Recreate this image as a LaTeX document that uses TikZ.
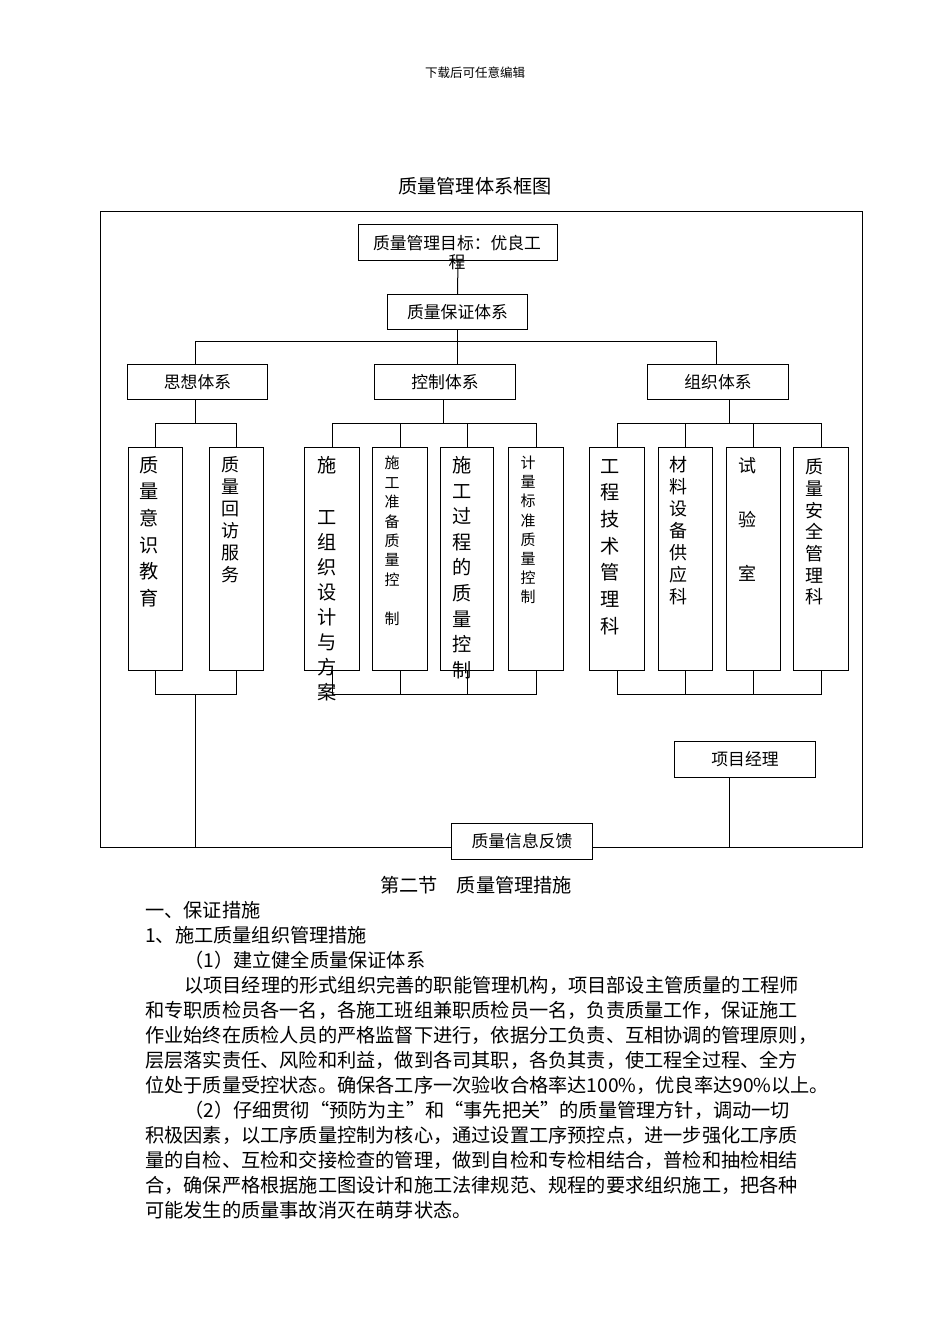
\documentclass[tikz,border=0pt]{standalone}
\usepackage{fontspec}
\setmainfont{Noto Sans CJK SC}
\begin{document}
\begin{tikzpicture}[x=1pt,y=-1pt,
  box/.style={draw, line width=1pt, fill=white, inner sep=0pt, font=\fontsize{16.8}{19}\selectfont},
  conn/.style={line width=1pt},
  vbig/.style={inner sep=0pt, align=center, font=\fontsize{19.2}{26.6}\selectfont},
  vmid/.style={inner sep=0pt, align=center, font=\fontsize{18}{22}\selectfont},
  vsmall/.style={inner sep=0pt, align=center, font=\fontsize{15}{19.3}\selectfont},
  body/.style={inner sep=0pt, anchor=west, font=\fontsize{19.2}{25}\selectfont},
  tall/.style={box, minimum width=54pt, minimum height=223pt, anchor=north west}]
\useasboundingbox (0,0) rectangle (950,1344);
\fill[white] (0,0) rectangle (950,1344);

\node[inner sep=0pt, font=\fontsize{12.5}{14}\selectfont] (hdr) at (475,73) {下载后可任意编辑};
\node[inner sep=0pt, font=\fontsize{19.2}{22}\selectfont] (title) at (475,186) {质量管理体系框图};

\node[draw, line width=1pt, minimum width=762pt, minimum height=636pt, anchor=north west, inner sep=0pt] (frame) at (100,211) {};

% top level
\node[box, minimum width=199pt, minimum height=36pt, anchor=north west] (t1) at (358,224) {};
\node[box, minimum width=140pt, minimum height=35pt, anchor=north west] (t2) at (387,294) {质量保证体系};
\coordinate (busA) at (0,341);
\coordinate (busB) at (0,423);
\coordinate (busC) at (0,694);

\node[box, minimum width=140pt, minimum height=35pt, anchor=north west] (s1) at (127,364) {思想体系};
\node[box, minimum width=141pt, minimum height=35pt, anchor=north west] (ctl) at (374,364) {控制体系};
\node[box, minimum width=141pt, minimum height=35pt, anchor=north west] (o1) at (647,364) {组织体系};

\node[tall] (b1) at (128,447) {};
\node[tall] (b2) at (209,447) {};
\node[tall, minimum width=55pt] (b3) at (304,447) {};
\node[tall, minimum width=55pt] (b4) at (372,447) {};
\node[tall, minimum width=53pt] (b5) at (440,447) {};
\node[tall, minimum width=55pt] (b6) at (508,447) {};
\node[tall, minimum width=55pt] (b7) at (589,447) {};
\node[tall] (b8) at (658,447) {};
\node[tall] (b9) at (726,447) {};
\node[tall, minimum width=55pt] (b10) at (793,447) {};

\node[box, minimum width=141pt, minimum height=36pt, anchor=north west] (pm) at (674,741) {项目经理};

% connectors
\draw[conn] (t1.south) -- (t2.north);
\draw[conn] (t2.south) -- (t2.south |- ctl.north);
\draw[conn] ([xshift=-2pt]s1.north) -- ([xshift=-2pt]s1.north |- busA) -- ([xshift=-2pt]o1.north |- busA) -- ([xshift=-2pt]o1.north);

\draw[conn] ([xshift=-2pt]s1.south) -- ([xshift=-2pt]s1.south |- busB);
\draw[conn] (b1.north) -- (b1.north |- busB) -- (b2.north |- busB) -- (b2.north);
\draw[conn] (b1.south) -- (b1.south |- busC) -- (b2.south |- busC) -- (b2.south);
\draw[conn] ([xshift=-2pt]s1.south |- busC) -- ([xshift=-2pt]s1.south |- frame.south);

\draw[conn] ([xshift=-1.5pt]ctl.south) -- ([xshift=-1.5pt]ctl.south |- busB);
\draw[conn] (b3.north) -- (b3.north |- busB) -- (b6.north |- busB) -- (b6.north);
\draw[conn] (b4.north) -- (b4.north |- busB);
\draw[conn] (b5.north) -- (b5.north |- busB);
\draw[conn] (b3.south) -- (b3.south |- busC) -- (b6.south |- busC) -- (b6.south);
\draw[conn] (b4.south) -- (b4.south |- busC);
\draw[conn] (b5.south) -- (b5.south |- busC);

\draw[conn] ([xshift=11pt]o1.south) -- ([xshift=11pt]o1.south |- busB);
\draw[conn] (b7.north) -- (b7.north |- busB) -- (b10.north |- busB) -- (b10.north);
\draw[conn] (b8.north) -- (b8.north |- busB);
\draw[conn] (b9.north) -- (b9.north |- busB);
\draw[conn] (b7.south) -- (b7.south |- busC) -- (b10.south |- busC) -- (b10.south);
\draw[conn] (b8.south) -- (b8.south |- busC);
\draw[conn] (b9.south) -- (b9.south |- busC);

\draw[conn] ([xshift=-15.5pt]pm.south) -- ([xshift=-15.5pt]pm.south |- frame.south);

\node[box, minimum width=141pt, minimum height=36pt, anchor=north west] (fb) at (451,823) {质量信息反馈};

% box texts
\node[inner sep=0pt, align=center, font=\fontsize{16.8}{19}\selectfont] (t1txt) at (457,252.5) {质量管理目标：优良工\\程};
\node[vbig] (b1t) at (149,531.5) {质\\量\\意\\识\\教\\育};
\node[vmid] (b2t) at (230,520) {质\\量\\回\\访\\服\\务};
\node[vbig, font=\fontsize{19.2}{25}\selectfont] (b3t) at (327,578.5) {施\\[27pt]工\\组\\织\\设\\计\\与\\方\\案};
\node[vsmall, font=\fontsize{15}{19.4}\selectfont] (b4t) at (392,541) {施\\工\\准\\备\\质\\量\\控\\[20pt]制};
\node[vbig, font=\fontsize{19.2}{25.6}\selectfont] (b5t) at (462,567.5) {施\\工\\过\\程\\的\\质\\量\\控\\制};
\node[vsmall, font=\fontsize{15}{19.15}\selectfont] (b6t) at (528,530) {计\\量\\标\\准\\质\\量\\控\\制};
\node[vbig, font=\fontsize{19.2}{26.7}\selectfont] (b7t) at (610,547) {工\\程\\技\\术\\管\\理\\科};
\node[vmid] (b8t) at (678,531) {材\\料\\设\\备\\供\\应\\科};
\node[vmid, font=\fontsize{18}{54}\selectfont] (b9t) at (747,519) {试\\验\\室};
\node[vmid, font=\fontsize{18}{21.7}\selectfont] (b10t) at (814,532) {质\\量\\安\\全\\管\\理\\科};

% body text
\node[inner sep=0pt, font=\fontsize{19.2}{25}\selectfont] (p0) at (476,885) {第二节　质量管理措施};
\node[body] (p1) at (145,910) {一、保证措施};
\node[body] (p2) at (145,935) {1、施工质量组织管理措施};
\node[body] (p3) at (184,960) {（1）建立健全质量保证体系};
\node[body] (p4) at (184,985) {以项目经理的形式组织完善的职能管理机构，项目部设主管质量的工程师};
\node[body] (p5) at (145,1010) {和专职质检员各一名，各施工班组兼职质检员一名，负责质量工作，保证施工};
\node[body] (p6) at (145,1035) {作业始终在质检人员的严格监督下进行，依据分工负责、互相协调的管理原则，};
\node[body] (p7) at (145,1060) {层层落实责任、风险和利益，做到各司其职，各负其责，使工程全过程、全方};
\node[body] (p8) at (145,1085) {位处于质量受控状态。确保各工序一次验收合格率达100\%，优良率达90\%以上。};
\node[body] (p9) at (184,1110) {（2）仔细贯彻“预防为主”和“事先把关”的质量管理方针，调动一切};
\node[body] (p10) at (145,1135) {积极因素，以工序质量控制为核心，通过设置工序预控点，进一步强化工序质};
\node[body] (p11) at (145,1160) {量的自检、互检和交接检查的管理，做到自检和专检相结合，普检和抽检相结};
\node[body] (p12) at (145,1185) {合，确保严格根据施工图设计和施工法律规范、规程的要求组织施工，把各种};
\node[body] (p13) at (145,1210) {可能发生的质量事故消灭在萌芽状态。};
\end{tikzpicture}
\end{document}
